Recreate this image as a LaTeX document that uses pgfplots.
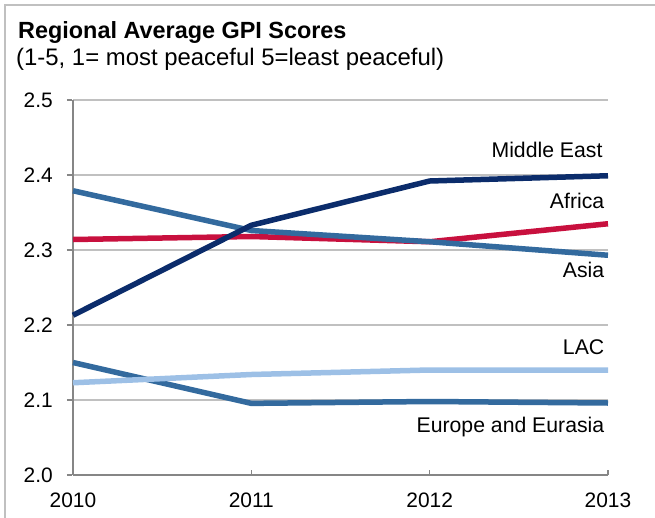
\documentclass[border=0pt]{standalone}
\usepackage{fontspec}
\setmainfont{Liberation Sans}
\usepackage{pgfplots}
\pgfplotsset{compat=1.18}
\definecolor{navy}{HTML}{0B2C6B}
\definecolor{crimson}{HTML}{C8103E}
\definecolor{steel}{HTML}{336A9E}
\definecolor{lightb}{HTML}{9DC0E6}
\definecolor{axgray}{HTML}{868686}
\definecolor{gridgray}{HTML}{C0C0C0}
\begin{document}
\begin{tikzpicture}
\path[use as bounding box] (0,0) rectangle (655bp,-518bp);
\draw[gridgray, line width=1.5bp] (5bp,-518bp) -- (5bp,-5bp) -- (655bp,-5bp);
\node[anchor=base west, font=\fontsize{23.5}{26}\selectfont\bfseries, inner sep=0pt] at (18bp,-38.5bp) {Regional Average GPI Scores};
\node[anchor=base west, font=\fontsize{24}{26}\selectfont, inner sep=0pt] at (16bp,-65bp) {(1-5, 1= most peaceful 5=least peaceful)};
\begin{axis}[
  at={(73bp,-475bp)}, anchor=origin,
  scale only axis, width=535bp, height=375bp,
  xmin=2010, xmax=2013, ymin=2.0, ymax=2.5,
  axis lines=left, axis line style={-, axgray, line width=1.5bp},
  xtick={2010,2011,2012,2013},
  xticklabels={2010,2011,2012,2013},
  ytick={2.0,2.1,2.2,2.3,2.4,2.5},
  yticklabel style={/pgf/number format/fixed, /pgf/number format/precision=1, /pgf/number format/fixed zerofill},
  /pgf/number format/assume math mode=true,
  tick align=inside, major tick length=5bp,
  tick style={axgray, line width=1.5bp},
  major y tick style={xshift=-6bp},
  ymajorgrids, grid style={gridgray, line width=1.5bp},
  ticklabel style={font=\fontsize{21}{24}\selectfont, text=black, inner sep=0pt},
  yticklabel style={anchor=east, xshift=-20bp},
  xticklabel style={anchor=north, yshift=-18bp},
  clip=false,
  every axis plot/.append style={line width=5.5bp, line join=round},
]
\addplot[steel] coordinates {(2010,2.150) (2011,2.0955) (2012,2.098) (2013,2.096)};
\addplot[lightb] coordinates {(2010,2.123) (2011,2.134) (2012,2.140) (2013,2.140)};
\addplot[crimson] coordinates {(2010,2.314) (2011,2.318) (2012,2.311) (2013,2.335)};
\addplot[steel] coordinates {(2010,2.379) (2011,2.326) (2012,2.311) (2013,2.293)};
\addplot[navy] coordinates {(2010,2.213) (2011,2.333) (2012,2.392) (2013,2.399)};
\begin{scope}[every node/.style={anchor=base east, inner sep=0pt, font=\fontsize{21.3}{24}\selectfont}]
\node at (axis cs:2012.97,2.423) {Middle East};
\node at (axis cs:2012.98,2.356) {Africa};
\node at (axis cs:2012.98,2.263) {Asia};
\node at (axis cs:2012.98,2.161) {LAC};
\node at (axis cs:2012.98,2.057) {Europe and Eurasia};
\end{scope}
\end{axis}
\end{tikzpicture}
\end{document}
